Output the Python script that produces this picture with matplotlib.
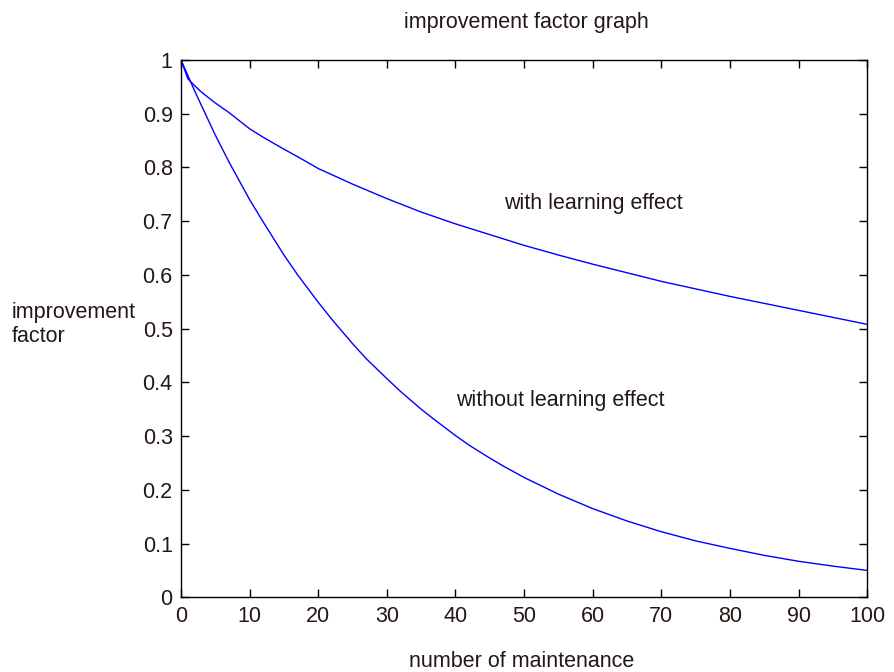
import matplotlib
matplotlib.use("Agg")
import matplotlib.pyplot as plt

# number of maintenance
x_with = [0, 1, 2, 3, 5, 7, 10, 12, 15, 17, 20, 25, 30, 35, 40, 45, 50,
          55, 60, 65, 70, 75, 80, 85, 90, 95, 100]
# improvement factor, with learning effect
y_with = [1.0, 0.965, 0.952, 0.94, 0.92, 0.902, 0.872, 0.856, 0.834, 0.82,
          0.798, 0.769, 0.742, 0.717, 0.695, 0.675, 0.655, 0.637, 0.620,
          0.604, 0.588, 0.574, 0.560, 0.547, 0.534, 0.521, 0.508]

x_without = [0, 2, 5, 7, 10, 12, 15, 17, 20, 22, 25, 27, 30, 32, 35, 37, 40,
             42, 45, 47, 50, 55, 60, 65, 70, 75, 80, 85, 90, 95, 100]
# improvement factor, without learning effect
y_without = [1.0, 0.942, 0.86, 0.81, 0.74, 0.698, 0.637, 0.6, 0.549, 0.517,
             0.472, 0.444, 0.407, 0.383, 0.35, 0.33, 0.301, 0.283, 0.259,
             0.244, 0.223, 0.192, 0.165, 0.142, 0.122, 0.105, 0.091, 0.078,
             0.067, 0.058, 0.05]

xticks = list(range(0, 101, 10))
yticks = [0, 0.1, 0.2, 0.3, 0.4, 0.5, 0.6, 0.7, 0.8, 0.9, 1]
ytick_labels = ['0', '0.1', '0.2', '0.3', '0.4', '0.5', '0.6', '0.7', '0.8', '0.9', '1']

plt.rcParams['font.family'] = ['Liberation Sans', 'DejaVu Sans']
fs = 15.5
txt_col = '#231815'

fig = plt.figure(figsize=(8.94, 6.72), dpi=100)
ax = fig.add_axes([0.2025, 0.1112, 0.7675, 0.7995])

ax.plot(x_with, y_with, color='blue', lw=1.0)
ax.plot(x_without, y_without, color='blue', lw=1.0)

ax.set_xlim(0, 100)
ax.set_ylim(0, 1)
ax.set_xticks(xticks)
ax.set_yticks(yticks)
ax.set_yticklabels(ytick_labels)
ax.tick_params(direction='in', length=6, width=1, top=True, right=True,
               colors='black', labelcolor=txt_col, labelsize=fs, pad=6)
for s in ax.spines.values():
    s.set_linewidth(1.0)

ax.text(47.1, 0.732, 'with learning effect', fontsize=fs, va='center', color=txt_col)
ax.text(40.1, 0.366, 'without learning effect', fontsize=fs, va='center', color=txt_col)

fig.text(0.589, 0.966, 'improvement factor graph', ha='center', va='center', fontsize=fs, color=txt_col)
fig.text(0.583, 0.016, 'number of maintenance', ha='center', va='center', fontsize=fs, color=txt_col)
fig.text(0.013, 0.517, 'improvement\nfactor', ha='left', va='center', fontsize=fs,
         color=txt_col, linespacing=1.2)

fig.savefig('out.png', dpi=100, facecolor='white')
